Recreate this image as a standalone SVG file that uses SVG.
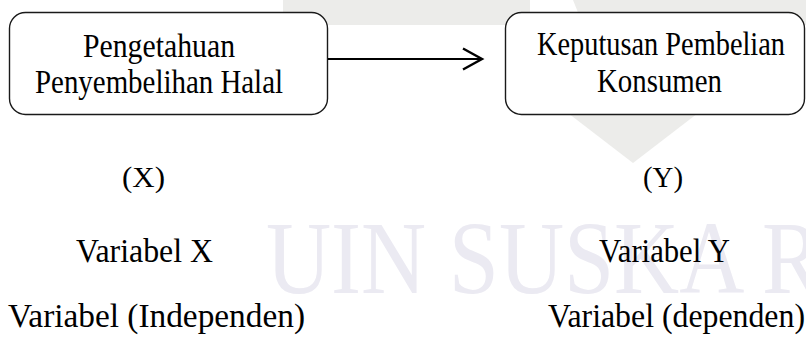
<svg xmlns="http://www.w3.org/2000/svg" width="806" height="339" viewBox="0 0 806 339">
  <defs>
    <style>
      .wm { fill: #ececea; }
      .wmt { fill: #ebeaf2; font-family: "Liberation Serif", "Times New Roman", serif; font-size: 104px; }
      .box { fill: #ffffff; stroke: #1a1a1a; stroke-width: 1.4; }
      .lbl { fill: #000000; font-family: "Liberation Serif", "Times New Roman", serif; font-size: 33px; }
      .sub { fill: #000000; font-family: "Liberation Serif", "Times New Roman", serif; font-size: 34px; }
      .conn { fill: none; stroke: #000000; stroke-width: 2.2; }
    </style>
    <marker id="chev" markerUnits="userSpaceOnUse" markerWidth="24" markerHeight="26" refX="21" refY="12" orient="auto">
      <path d="M2,1.5 L21,12 L2,22.5" fill="none" stroke="#000" stroke-width="2.4"/>
    </marker>
  </defs>

  <g id="watermark">
    <polygon class="wm" points="283,0 530,0 530,25 283,25"/>
    <polygon class="wm" points="573,0 806,0 806,25 583,25"/>
    <polygon class="wm" points="512,70 754,70 633,163"/>
    <text class="wmt" x="266" y="293" textLength="556" lengthAdjust="spacingAndGlyphs">UIN SUSKA R</text>
  </g>

  <g id="node-x">
    <rect class="box" x="9.5" y="12.5" width="318" height="102" rx="16" ry="16"/>
    <text class="lbl" x="83" y="57" textLength="152" lengthAdjust="spacingAndGlyphs">Pengetahuan</text>
    <text class="lbl" x="35" y="93" textLength="248" lengthAdjust="spacingAndGlyphs">Penyembelihan Halal</text>
  </g>

  <g id="node-y">
    <rect class="box" x="505.5" y="12.5" width="299" height="102" rx="16" ry="16"/>
    <text class="lbl" x="537" y="55" textLength="248" lengthAdjust="spacingAndGlyphs">Keputusan Pembelian</text>
    <text class="lbl" x="597" y="92" textLength="125" lengthAdjust="spacingAndGlyphs">Konsumen</text>
  </g>

  <g id="connectors">
    <line class="conn" x1="328" y1="59" x2="482" y2="59" marker-end="url(#chev)"/>
  </g>

  <g id="labels-x">
    <text class="sub" x="122" y="187" font-size="29" textLength="43" lengthAdjust="spacingAndGlyphs" style="font-size:29px">(X)</text>
    <text class="sub" x="76" y="262" textLength="137" lengthAdjust="spacingAndGlyphs">Variabel X</text>
    <text class="sub" x="8" y="327" textLength="297" lengthAdjust="spacingAndGlyphs">Variabel (Independen)</text>
  </g>

  <g id="labels-y">
    <text class="sub" x="643" y="187" textLength="40" lengthAdjust="spacingAndGlyphs" style="font-size:29px">(Y)</text>
    <text class="sub" x="599" y="262" textLength="131" lengthAdjust="spacingAndGlyphs">Variabel Y</text>
    <text class="sub" x="548" y="327" textLength="257" lengthAdjust="spacingAndGlyphs">Variabel (dependen)</text>
  </g>
</svg>
